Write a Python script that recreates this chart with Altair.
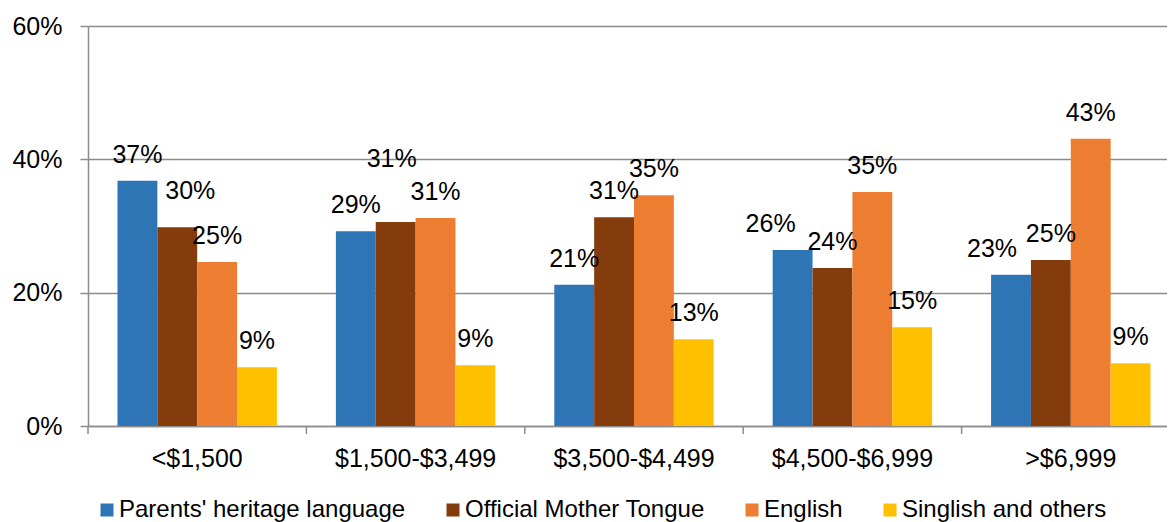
import altair as alt
import pandas as pd

categories = ["<$1,500", "$1,500-$3,499", "$3,500-$4,499", "$4,500-$6,999", ">$6,999"]
series = ["Parents' heritage language", "Official Mother Tongue", "English", "Singlish and others"]
colors = ["#2E75B6", "#843C0C", "#ED7D31", "#FFC000"]

heritage = [36.8, 29.2, 21.2, 26.4, 22.7]
mother_tongue = [29.8, 30.6, 31.3, 23.7, 24.9]
english = [24.6, 31.2, 34.6, 35.1, 43.1]
singlish = [8.8, 9.1, 13.0, 14.8, 9.4]

y_ticks = [0, 20, 40, 60]

rows = []
for s, vals in zip(series, [heritage, mother_tongue, english, singlish]):
    for c, v in zip(categories, vals):
        rows.append({"category": c, "series": s, "value": v})
df = pd.DataFrame(rows)
cat_df = pd.DataFrame({"category": categories})

FONT = "Liberation Sans"
GRID = "#8c8c8c"
W = 1079            # visible plot width
XRANGE = 1092       # band scale range (last band runs to the window edge)
STEP = XRANGE / 5.0

# manual label nudges (pixels) as in the original chart, keyed by (category, series)
nudges = {
    ("<$1,500", "Official Mother Tongue"): (13, -10),
    ("$1,500-$3,499", "Official Mother Tongue"): (-4, -37),
    ("$4,500-$6,999", "Parents' heritage language"): (-22, 0),
    (">$6,999", "Parents' heritage language"): (-19, 0),
}

x_enc = alt.X(
    "category:N",
    sort=categories,
    scale=alt.Scale(paddingInner=0.27, paddingOuter=0.135, range=[0, XRANGE]),
    axis=alt.Axis(
        title=None, labelAngle=0, ticks=False, tickSize=0, labelPadding=20,
        labelFontSize=25, labelFont=FONT, labelColor="black",
        domainColor=GRID, domainWidth=1.5,
    ),
)
xoff = alt.XOffset("series:N", sort=series, scale=alt.Scale(paddingInner=0, paddingOuter=0))
y_enc = alt.Y(
    "value:Q",
    scale=alt.Scale(domain=[0, 60], nice=False),
    axis=alt.Axis(
        title=None, values=y_ticks, labelExpr="datum.value + '%'",
        grid=True, gridColor=GRID, gridWidth=1.5,
        tickSize=8, tickColor=GRID, tickWidth=1.5, labelPadding=18,
        labelFontSize=25, labelFont=FONT, labelColor="black",
        domainColor=GRID, domainWidth=1.5,
    ),
)

base = alt.Chart(df).transform_calculate(label="format(datum.value, '.0f') + '%'")

bars = base.mark_bar().encode(
    x=x_enc,
    xOffset=xoff,
    y=y_enc,
    color=alt.Color(
        "series:N",
        sort=series,
        scale=alt.Scale(domain=series, range=colors),
        legend=alt.Legend(
            title=None, orient="none", legendX=7, legendY=472,
            direction="horizontal", columns=4, columnPadding=35,
            symbolType="square", symbolSize=169, symbolStrokeWidth=0,
            labelFontSize=24, labelFont=FONT, labelColor="black",
            labelOffset=0, padding=0, labelLimit=400,
        ),
    ),
)

text_enc = dict(
    x=alt.X("category:N", sort=categories),
    xOffset=alt.XOffset("series:N", sort=series),
    y=alt.Y("value:Q"),
    text="label:N",
)


def sel(c, s):
    cs = '"' + c + '"'
    ss = '"' + s + '"'
    return f"datum.category === {cs} && datum.series === {ss}"


not_nudged = " && ".join(f"!({sel(c, s)})" for (c, s) in nudges)

text_layers = [
    base.transform_filter(not_nudged)
    .mark_text(baseline="alphabetic", dy=-18, fontSize=25, font=FONT, color="black")
    .encode(**text_enc)
]
for (c, s), (dx, dy) in nudges.items():
    text_layers.append(
        base.transform_filter(sel(c, s))
        .mark_text(baseline="alphabetic", dx=dx, dy=-18 + dy, fontSize=25, font=FONT, color="black")
        .encode(**text_enc)
    )

ticks = alt.Chart(cat_df).mark_rule(color=GRID, strokeWidth=1.5, xOffset=-STEP * 0.135).encode(
    x=alt.X("category:N", sort=categories, bandPosition=0),
    y=alt.value(400),
    y2=alt.value(408),
)

chart = (
    alt.layer(bars, *text_layers, ticks)
    .properties(
        width=W,
        height=400,
        padding={"left": 80, "top": 18, "right": 0, "bottom": 98},
        autosize=alt.AutoSizeParams(type="none"),
    )
    .configure_view(stroke=None)
)

chart.save("out.html", embed_options={"renderer": "svg", "actions": False})
